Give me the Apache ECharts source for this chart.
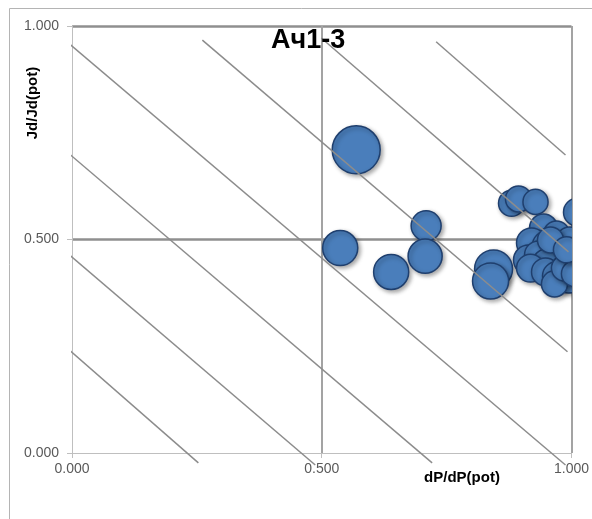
<!DOCTYPE html>
<html><head><meta charset="utf-8">
<script src="https://cdn.jsdelivr.net/npm/echarts@6/dist/echarts.min.js"></script>
<style>html,body{margin:0;padding:0;background:#fff}#c{width:592px;height:519px}</style>
</head><body><div id="c"></div>
<script>
const titleText = 'Ач1-3';
const xName = 'dP/dP(pot)';
const yName = 'Jd/Jd(pot)';
const xTicks = [0, 0.5, 1];
const yTicks = [0, 0.5, 1];

// bubble data: dP/dP(pot), Jd/Jd(pot), bubble weight
const bubbleX = [0.569, 0.537, 0.639, 0.709, 0.707, 0.844, 0.838, 0.880, 0.894, 0.928, 1.012,
  0.944, 0.970, 0.920, 0.950, 0.984, 0.964, 0.996, 0.914, 0.934, 0.978, 0.950, 0.918, 0.998,
  0.948, 0.970, 0.994, 0.966, 0.986, 1.004, 0.958, 1.006, 0.990];
const bubbleY = [0.710, 0.480, 0.424, 0.532, 0.461, 0.431, 0.403, 0.585, 0.595, 0.588, 0.564,
  0.527, 0.513, 0.492, 0.487, 0.485, 0.471, 0.499, 0.452, 0.464, 0.457, 0.445, 0.433, 0.447,
  0.424, 0.415, 0.405, 0.396, 0.433, 0.471, 0.499, 0.420, 0.476];
const bubbleW = [23.0, 12.3, 12.3, 9.0, 11.6, 14.4, 13.0, 6.8, 6.8, 6.3, 7.8,
  7.8, 6.8, 9.0, 7.8, 6.8, 7.8, 6.8, 9.0, 7.8, 7.8, 7.8, 7.8, 6.8,
  7.8, 7.8, 6.8, 6.8, 6.8, 6.8, 6.8, 6.8, 6.8];

// diagonal reference lines (start / end points in data units)
const isoStartX = [-0.012, -0.012, -0.012, -0.012, 0.261, 0.499, 0.729];
const isoStartY = [0.248, 0.471, 0.707, 0.965, 0.967, 0.972, 0.963];
const isoEndX   = [0.253, 0.487, 0.721, 0.988, 0.992, 0.994, 0.988];
const isoEndY   = [-0.023, -0.028, -0.023, -0.028, 0.237, 0.471, 0.698];

const FONT = "'Liberation Sans', Arial, sans-serif";
const chart = echarts.init(document.getElementById('c'), null, {renderer: 'canvas'});

const bubbleData = bubbleX.map((x, i) => [x, bubbleY[i], bubbleW[i]]);
const lineSeries = isoStartX.map((x, i) => ({
  type: 'line', silent: true, clip: false, symbol: 'none', z: 5,
  lineStyle: {color: '#8c8c8c', width: 1.5},
  data: [[x, isoStartY[i]], [isoEndX[i], isoEndY[i]]]
}));

const fmt = v => v.toFixed(3);

chart.setOption({
  animation: false,
  backgroundColor: '#fff',
  title: {
    text: titleText, left: 271, top: 27, padding: 0,
    textStyle: {fontFamily: FONT, fontSize: 27, fontWeight: 'bold', color: '#000'}
  },
  grid: {left: 72, right: 19, top: 26, bottom: 66, containLabel: false},
  xAxis: {
    type: 'value', min: xTicks[0], max: xTicks[xTicks.length - 1], interval: 0.5,
    axisLine: {show: true, onZero: false, lineStyle: {color: '#bfbfbf', width: 1}},
    axisTick: {show: true, length: 5, lineStyle: {color: '#bfbfbf'}},
    axisLabel: {formatter: fmt, margin: 9, fontFamily: FONT, fontSize: 14, color: '#595959',
      showMaxLabel: true, showMinLabel: true},
    splitLine: {show: true, lineStyle: {color: ['rgba(0,0,0,0)', '#a3a3a3', '#a3a3a3'], width: 2}}
  },
  yAxis: {
    type: 'value', min: yTicks[0], max: yTicks[yTicks.length - 1], interval: 0.5,
    axisLine: {show: true, onZero: false, lineStyle: {color: '#bfbfbf', width: 1}},
    axisTick: {show: true, length: 5, lineStyle: {color: '#bfbfbf'}},
    axisLabel: {formatter: fmt, margin: 13, fontFamily: FONT, fontSize: 14, color: '#595959'},
    splitLine: {show: true, lineStyle: {color: ['rgba(0,0,0,0)', '#8f8f8f', '#8f8f8f'], width: 2.5}}
  },
  graphic: [
    {type: 'rect', silent: true, z: -1,
     shape: {x: 9.5, y: 8.5, width: 700, height: 700},
     style: {fill: 'none', stroke: '#b4b4b4', lineWidth: 1}},
    {type: 'text', x: 462, y: 478, silent: true,
     style: {text: xName, fontFamily: FONT, fontSize: 15, fontWeight: 'bold', fill: '#000',
             align: 'center', verticalAlign: 'middle'}},
    {type: 'text', x: 33, y: 103, rotation: Math.PI / 2, silent: true,
     style: {text: yName, fontFamily: FONT, fontSize: 15, fontWeight: 'bold', fill: '#000',
             align: 'center', verticalAlign: 'middle'}}
  ],
  series: [
    {
      type: 'custom', z: 3, clip: true,
      encode: {x: 0, y: 1},
      renderItem: function (params, api) {
        const p = api.coord([api.value(0), api.value(1)]);
        const r = Math.sqrt(api.value(2)) * 5;
        return {
          type: 'circle',
          shape: {cx: p[0], cy: p[1], r: r},
          style: {fill: '#4a7ebb', stroke: '#1f3f6e', lineWidth: 1.5,
            shadowBlur: 4, shadowOffsetX: 2, shadowOffsetY: 2, shadowColor: 'rgba(0,0,0,0.35)'}
        };
      },
      data: bubbleData
    }
  ].concat(lineSeries)
});
</script>
</body></html>
